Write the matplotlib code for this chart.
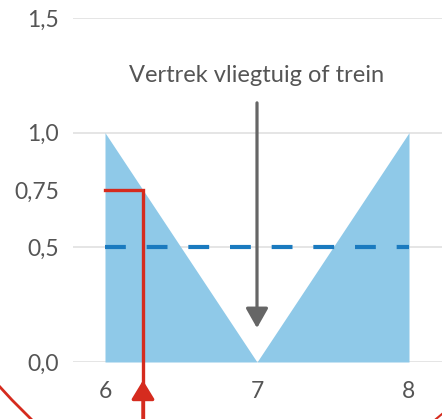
import matplotlib
matplotlib.use("Agg")
import matplotlib.pyplot as plt
from matplotlib.lines import Line2D

x_vals = [6, 7, 8]
y_vals = [1.0, 0.0, 1.0]
threshold = 0.5
red_x = 6.25
red_y = 0.75
yticks = [0.0, 0.5, 0.75, 1.0, 1.5]
ytick_labels = ["0,0", "0,5", "0,75", "1,0", "1,5"]
xticks = [6, 7, 8]
xtick_labels = ["6", "7", "8"]
annot_text = "Vertrek vliegtuig of trein"

plt.rcParams['font.family'] = ['Lato', 'DejaVu Sans']

W, H = 442, 419
fig = plt.figure(figsize=(W/100, H/100), dpi=100)
ax = fig.add_axes([73/W, 1-362/H, (442-73)/W, (362-18)/H])
ax.set_xlim(6 - 32/152, 8 + 33/152)
ax.set_ylim(0, 1.5)

for g in [0.0, 0.5, 1.0, 1.5]:
    ax.axhline(g, color="#e3e3e3", lw=1.3, zorder=0)

ax.fill_between(x_vals, y_vals, 0, color="#8fc9e8", lw=0, zorder=1)
ax.plot([x_vals[0], x_vals[-1]], [threshold, threshold], color="#1a7abf",
        lw=3, dashes=(5, 5), zorder=2)

# red indicator
ax.plot([x_vals[0], red_x, red_x], [red_y, red_y, -0.25], color="#d52b1e",
        lw=2.4, clip_on=False, zorder=3, solid_joinstyle='miter')
ax.annotate("", xy=(red_x, -0.08), xytext=(red_x, -0.26),
            arrowprops=dict(arrowstyle="-|>,head_length=1.15,head_width=0.7",
                            color="#d52b1e", lw=2.4, shrinkA=0, shrinkB=0),
            annotation_clip=False, zorder=3)

# gray arrow
ax.annotate("", xy=(7, 0.148), xytext=(7, 1.13),
            arrowprops=dict(arrowstyle="-|>,head_length=1.2,head_width=0.68",
                            color="#666666", lw=2.3, shrinkA=0, shrinkB=0),
            zorder=4)
ax.text(7, 1.25, annot_text, ha="center", va="center", fontsize=17,
        color="#555555")

ax.set_yticks(yticks)
ax.set_yticklabels(ytick_labels)
ax.set_xticks(xticks)
ax.set_xticklabels(xtick_labels)
ax.tick_params(length=0, labelsize=16.5, colors="#555555")
ax.tick_params(axis="y", pad=10)
ax.tick_params(axis="x", pad=14)
for s in ax.spines.values():
    s.set_visible(False)

# red curve pieces at bottom edges
fig.add_artist(Line2D([0/W, 12/W, 31/W], [1-387/H, 1-400/H, 1-419/H],
                      color="#d52b1e", lw=2, transform=fig.transFigure))
fig.add_artist(Line2D([436/W, 442/W], [1-419/H, 1-414/H],
                      color="#d52b1e", lw=1.5, transform=fig.transFigure))

fig.savefig("out.png", dpi=100)
